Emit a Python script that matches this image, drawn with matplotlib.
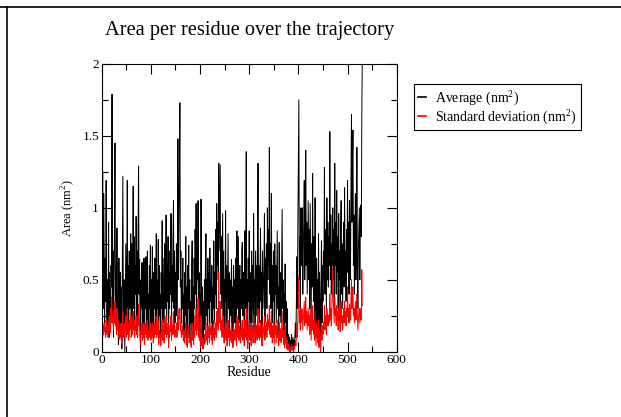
import numpy as np
import matplotlib
matplotlib.use("Agg")
import matplotlib.pyplot as plt
from matplotlib.lines import Line2D
from matplotlib.ticker import MultipleLocator

plt.rcParams['font.family'] = ['Liberation Serif', 'DejaVu Serif']
plt.rcParams['mathtext.fontset'] = 'custom'
plt.rcParams['mathtext.rm'] = 'Liberation Serif'

# residue numbers 1..530
residue = np.arange(1, 531)

# average area per residue (nm^2)
average = [
    0.65, 1.25, 0.3, 1.1, 0.7, 0.2, 0.65, 0.35, 1.19, 0.4,
    0.15, 0.5, 0.25, 0.9, 0.1, 0.55, 0.3, 0.2, 0.6, 0.45,
    1.79, 0.2, 0.7, 0.1, 0.5, 0.85, 1.45, 0.3, 0.6, 0.15,
    0.86, 0.25, 0.4, 0.05, 0.65, 0.3, 0.1, 0.55, 0.2, 0.45,
    0.02, 0.6, 1.22, 0.3, 0.1, 0.5, 0.0, 0.35, 0.75, 0.15,
    0.45, 1.19, 0.2, 0.6, 0.1, 0.7, 0.3, 0.5, 0.82, 0.25,
    0.75, 0.15, 0.55, 1.15, 0.3, 0.8, 0.2, 0.6, 0.4, 0.94,
    0.25, 0.7, 0.1, 0.85, 1.29, 0.4, 0.64, 0.15, 0.0, 0.5,
    0.3, 0.62, 0.1, 0.45, 0.2, 0.65, 0.05, 0.55, 0.3, 0.66,
    0.15, 0.5, 0.7, 0.2, 0.4, 0.1, 0.6, 0.3, 0.74, 0.15,
    0.5, 0.2, 0.73, 0.35, 0.1, 0.55, 0.3, 0.65, 0.2, 0.45,
    0.82, 0.15, 0.5, 0.3, 0.78, 0.1, 0.6, 0.25, 0.4, 0.05,
    0.55, 0.3, 0.91, 0.2, 0.65, 0.4, 0.1, 0.75, 0.3, 0.5,
    0.95, 0.2, 0.6, 0.35, 0.8, 0.05, 0.55, 0.3, 0.7, 0.4,
    0.96, 0.15, 0.6, 0.35, 0.8, 1.05, 0.3, 0.7, 0.2, 0.55,
    0.4, 0.75, 0.25, 0.6, 1.48, 0.5, 0.9, 1.2, 1.73, 0.45,
    0.7, 0.2, 0.5, 0.3, 0.65, 0.15, 0.4, 0.1, 0.55, 0.25,
    0.8, 0.1, 0.45, 0.05, 0.6, 0.3, 0.74, 0.1, 0.5, 0.2,
    0.35, 0.05, 0.6, 0.77, 0.2, 0.45, 0.1, 0.65, 0.3, 0.85,
    0.4, 1.03, 0.3, 0.7, 0.5, 1.05, 0.2, 0.55, 0.15, 0.4,
    0.05, 1.06, 0.3, 0.1, 0.45, 0.02, 0.35, 0.15, 0.5, 0.2,
    0.6, 0.82, 0.25, 0.5, 0.1, 0.65, 0.3, 0.55, 0.15, 0.72,
    0.35, 0.5, 0.2, 0.6, 0.1, 0.45, 0.3, 0.77, 0.2, 0.55,
    0.4, 0.85, 0.3, 1.03, 0.6, 0.9, 0.5, 1.31, 0.7, 1.0,
    1.3, 0.4, 0.8, 0.3, 0.65, 0.96, 0.25, 0.7, 0.15, 0.5,
    0.35, 0.98, 0.2, 0.6, 0.1, 0.45, 0.82, 0.3, 0.55, 0.1,
    0.5, 0.25, 0.4, 0.64, 0.15, 0.45, 0.05, 0.6, 0.3, 0.5,
    0.2, 0.65, 0.4, 0.1, 0.84, 0.3, 0.55, 0.8, 0.2, 0.45,
    0.6, 0.15, 0.5, 0.3, 0.7, 0.76, 0.25, 0.55, 0.4, 0.1,
    0.84, 0.3, 0.6, 1.39, 0.2, 0.5, 0.05, 0.65, 0.35, 0.84,
    0.2, 0.55, 0.4, 0.1, 0.7, 0.3, 0.6, 0.2, 0.96, 0.35,
    0.5, 0.15, 0.7, 0.4, 0.6, 0.25, 0.85, 1.31, 0.3, 0.6,
    0.2, 0.5, 0.86, 0.35, 0.55, 0.1, 0.7, 0.3, 0.45, 0.6,
    0.96, 0.2, 0.65, 0.4, 0.75, 0.3, 1.0, 0.5, 0.85, 0.6,
    1.42, 0.4, 0.75, 0.3, 1.1, 0.5, 0.2, 0.6, 0.35, 0.7,
    0.15, 0.75, 0.4, 0.6, 0.2, 0.5, 0.84, 0.3, 0.45, 0.1,
    0.76, 0.25, 0.55, 0.35, 0.2, 0.6, 0.99, 0.3, 0.5, 0.15,
    0.4, 0.1, 0.61, 0.2, 0.35, 0.05, 0.3, 0.1, 0.02, 0.12,
    0.05, 0.1, 0.0, 0.08, 0.03, 0.12, 0.02, 0.06, 0.1, 0.0,
    0.08, 0.04, 0.12, 0.2, 0.1, 0.35, 0.66, 0.3, 0.9, 1.34,
    1.75, 0.5, 0.8, 0.3, 1.0, 0.6, 0.85, 1.0, 0.4, 0.7,
    0.9, 1.19, 0.5, 0.8, 1.4, 0.6, 0.9, 0.4, 0.75, 1.05,
    0.5, 0.85, 0.3, 1.03, 0.6, 0.2, 0.75, 0.45, 1.24, 0.55,
    0.35, 0.8, 0.2, 1.07, 0.5, 0.1, 0.65, 0.3, 0.5, 0.15,
    0.82, 0.05, 0.55, 0.3, 0.0, 0.45, 0.77, 0.2, 0.6, 0.35,
    0.7, 0.5, 1.28, 0.4, 0.85, 0.6, 0.3, 1.07, 0.5, 0.9,
    0.45, 0.8, 0.6, 1.53, 0.5, 0.95, 0.4, 0.75, 0.6, 1.0,
    0.5, 0.85, 0.3, 1.31, 0.6, 0.9, 0.4, 1.12, 0.55, 0.8,
    0.3, 0.96, 0.5, 0.7, 0.25, 0.85, 1.05, 0.4, 0.75, 0.3,
    0.6, 0.9, 0.45, 1.14, 0.5, 0.7, 0.35, 0.85, 0.55, 1.19,
    0.6, 0.9, 0.4, 1.05, 0.7, 0.5, 1.2, 1.65, 0.9, 1.3,
    1.54, 0.6, 0.95, 0.4, 0.8, 1.1, 0.5, 0.75, 1.42, 0.6,
    0.3, 0.7, 0.85, 1.0, 0.5, 0.9, 1.02, 0.8, 1.63, 2.0,
]

# standard deviation (nm^2)
std_dev = [
    0.15, 0.1, 0.18, 0.12, 0.2, 0.14, 0.17, 0.1, 0.22, 0.15,
    0.12, 0.18, 0.1, 0.2, 0.15, 0.25, 0.13, 0.3, 0.2, 0.38,
    0.3, 0.2, 0.25, 0.15, 0.28, 0.2, 0.35, 0.18, 0.25, 0.12,
    0.3, 0.15, 0.22, 0.1, 0.2, 0.14, 0.08, 0.18, 0.12, 0.2,
    0.05, 0.15, 0.28, 0.12, 0.18, 0.1, 0.2, 0.15, 0.25, 0.1,
    0.18, 0.3, 0.12, 0.2, 0.08, 0.22, 0.15, 0.18, 0.25, 0.1,
    0.2, 0.12, 0.18, 0.28, 0.15, 0.22, 0.1, 0.18, 0.15, 0.25,
    0.12, 0.2, 0.1, 0.25, 0.33, 0.18, 0.22, 0.1, 0.05, 0.15,
    0.12, 0.2, 0.08, 0.15, 0.1, 0.2, 0.05, 0.18, 0.12, 0.2,
    0.1, 0.15, 0.22, 0.08, 0.15, 0.1, 0.18, 0.12, 0.2, 0.08,
    0.15, 0.1, 0.2, 0.12, 0.06, 0.18, 0.1, 0.2, 0.12, 0.15,
    0.25, 0.1, 0.18, 0.12, 0.22, 0.05, 0.15, 0.1, 0.12, 0.04,
    0.15, 0.1, 0.22, 0.08, 0.18, 0.14, 0.06, 0.2, 0.12, 0.15,
    0.25, 0.1, 0.16, 0.12, 0.2, 0.03, 0.15, 0.1, 0.18, 0.14,
    0.25, 0.08, 0.18, 0.12, 0.2, 0.28, 0.12, 0.2, 0.1, 0.15,
    0.12, 0.2, 0.1, 0.18, 0.3, 0.15, 0.22, 0.25, 0.3, 0.15,
    0.2, 0.1, 0.15, 0.12, 0.18, 0.08, 0.14, 0.06, 0.15, 0.1,
    0.2, 0.05, 0.12, 0.03, 0.15, 0.1, 0.18, 0.06, 0.12, 0.08,
    0.1, 0.03, 0.15, 0.2, 0.08, 0.12, 0.05, 0.18, 0.1, 0.25,
    0.15, 0.3, 0.12, 0.2, 0.15, 0.37, 0.1, 0.18, 0.08, 0.12,
    0.03, 0.25, 0.08, 0.04, 0.1, 0.02, 0.08, 0.05, 0.12, 0.06,
    0.15, 0.2, 0.08, 0.14, 0.05, 0.18, 0.1, 0.15, 0.06, 0.2,
    0.12, 0.16, 0.08, 0.18, 0.05, 0.14, 0.1, 0.22, 0.08, 0.16,
    0.12, 0.2, 0.1, 0.28, 0.18, 0.3, 0.15, 0.55, 0.2, 0.3,
    0.35, 0.15, 0.22, 0.1, 0.18, 0.25, 0.1, 0.2, 0.06, 0.15,
    0.1, 0.25, 0.08, 0.18, 0.04, 0.12, 0.22, 0.1, 0.16, 0.04,
    0.15, 0.08, 0.12, 0.2, 0.06, 0.14, 0.03, 0.18, 0.1, 0.15,
    0.08, 0.2, 0.12, 0.04, 0.25, 0.1, 0.16, 0.22, 0.08, 0.14,
    0.18, 0.06, 0.15, 0.1, 0.2, 0.22, 0.08, 0.16, 0.12, 0.04,
    0.22, 0.1, 0.18, 0.3, 0.08, 0.15, 0.02, 0.18, 0.1, 0.22,
    0.08, 0.16, 0.12, 0.04, 0.2, 0.1, 0.18, 0.06, 0.25, 0.12,
    0.15, 0.06, 0.2, 0.12, 0.18, 0.08, 0.22, 0.3, 0.1, 0.18,
    0.08, 0.15, 0.22, 0.1, 0.16, 0.04, 0.2, 0.1, 0.14, 0.18,
    0.25, 0.08, 0.18, 0.12, 0.2, 0.1, 0.26, 0.15, 0.22, 0.18,
    0.32, 0.12, 0.2, 0.1, 0.28, 0.15, 0.06, 0.18, 0.1, 0.2,
    0.05, 0.2, 0.12, 0.18, 0.06, 0.15, 0.22, 0.1, 0.14, 0.04,
    0.2, 0.08, 0.16, 0.1, 0.06, 0.18, 0.28, 0.1, 0.15, 0.05,
    0.12, 0.03, 0.18, 0.06, 0.1, 0.02, 0.08, 0.03, 0.01, 0.05,
    0.02, 0.04, 0.0, 0.03, 0.01, 0.05, 0.01, 0.03, 0.04, 0.0,
    0.03, 0.02, 0.05, 0.08, 0.04, 0.12, 0.2, 0.1, 0.25, 0.35,
    0.52, 0.2, 0.28, 0.15, 0.3, 0.2, 0.25, 0.3, 0.15, 0.22,
    0.28, 0.35, 0.18, 0.25, 0.38, 0.2, 0.28, 0.15, 0.22, 0.3,
    0.18, 0.25, 0.12, 0.3, 0.2, 0.08, 0.22, 0.15, 0.32, 0.18,
    0.12, 0.22, 0.08, 0.28, 0.15, 0.04, 0.2, 0.1, 0.16, 0.06,
    0.22, 0.03, 0.15, 0.1, 0.0, 0.14, 0.2, 0.08, 0.18, 0.12,
    0.2, 0.16, 0.32, 0.15, 0.25, 0.2, 0.12, 0.3, 0.18, 0.26,
    0.18, 0.25, 0.2, 0.4, 0.22, 0.3, 0.18, 0.26, 0.45, 0.6,
    0.35, 0.28, 0.2, 0.38, 0.25, 0.3, 0.18, 0.32, 0.22, 0.28,
    0.15, 0.3, 0.22, 0.26, 0.14, 0.28, 0.35, 0.2, 0.25, 0.15,
    0.22, 0.3, 0.2, 0.35, 0.22, 0.28, 0.18, 0.3, 0.24, 0.45,
    0.25, 0.3, 0.2, 0.33, 0.26, 0.22, 0.38, 0.5, 0.3, 0.4,
    0.45, 0.25, 0.3, 0.2, 0.28, 0.35, 0.22, 0.26, 0.4, 0.25,
    0.15, 0.22, 0.28, 0.3, 0.2, 0.25, 0.3, 0.22, 0.57, 0.32,
]

W, H = 621, 417
fig = plt.figure(figsize=(W / 100, H / 100), dpi=100)
ax = fig.add_axes([101.7 / W, 1 - 351.7 / H, 295 / W, 287.7 / H])

ax.plot(residue, average, color='black', lw=0.7, label='Average (nm$^2$)')
ax.plot(residue, std_dev, color='red', lw=0.7, label='Standard deviation (nm$^2$)')

ax.set_xlim(0, 600)
ax.set_ylim(0, 2)
ax.xaxis.set_major_locator(MultipleLocator(100))
ax.xaxis.set_minor_locator(MultipleLocator(50))
ax.yaxis.set_major_locator(MultipleLocator(0.5))
ax.yaxis.set_minor_locator(MultipleLocator(0.25))
ax.yaxis.set_major_formatter(plt.FuncFormatter(lambda v, p: f"{v:g}"))
ax.tick_params(which='both', direction='in', top=True, right=True, width=0.8,
               labelsize=9.5, pad=2)
ax.tick_params(which='major', length=7)
ax.tick_params(which='minor', length=4)
for s in ax.spines.values():
    s.set_linewidth(0.8)

ax.set_xlabel('Residue', fontsize=10, labelpad=0)
ax.set_ylabel('Area (nm$^2$)', fontsize=9, labelpad=4)

fig.text(249.5 / W, 1 - 35 / H, 'Area per residue over the trajectory',
         ha='center', va='baseline', fontsize=14.7)

leg = ax.legend(loc='upper left', bbox_to_anchor=(414 / W, 1 - 84 / H),
                bbox_transform=fig.transFigure, borderaxespad=0,
                fontsize=10, handlelength=0.55, handletextpad=0.65,
                labelspacing=0.0, borderpad=0.3, fancybox=False,
                edgecolor='black', framealpha=1)
leg.get_frame().set_linewidth(0.8)
for h in leg.legend_handles:
    h.set_linewidth(1.2)

# page border lines
fig.add_artist(Line2D([6.5 / W, 6.5 / W], [0, 1 - 7 / H], color='black', lw=1.2))
fig.add_artist(Line2D([0, 1], [1 - 7 / H, 1 - 7 / H], color='black', lw=1.2))

fig.savefig('out.png', dpi=100)
